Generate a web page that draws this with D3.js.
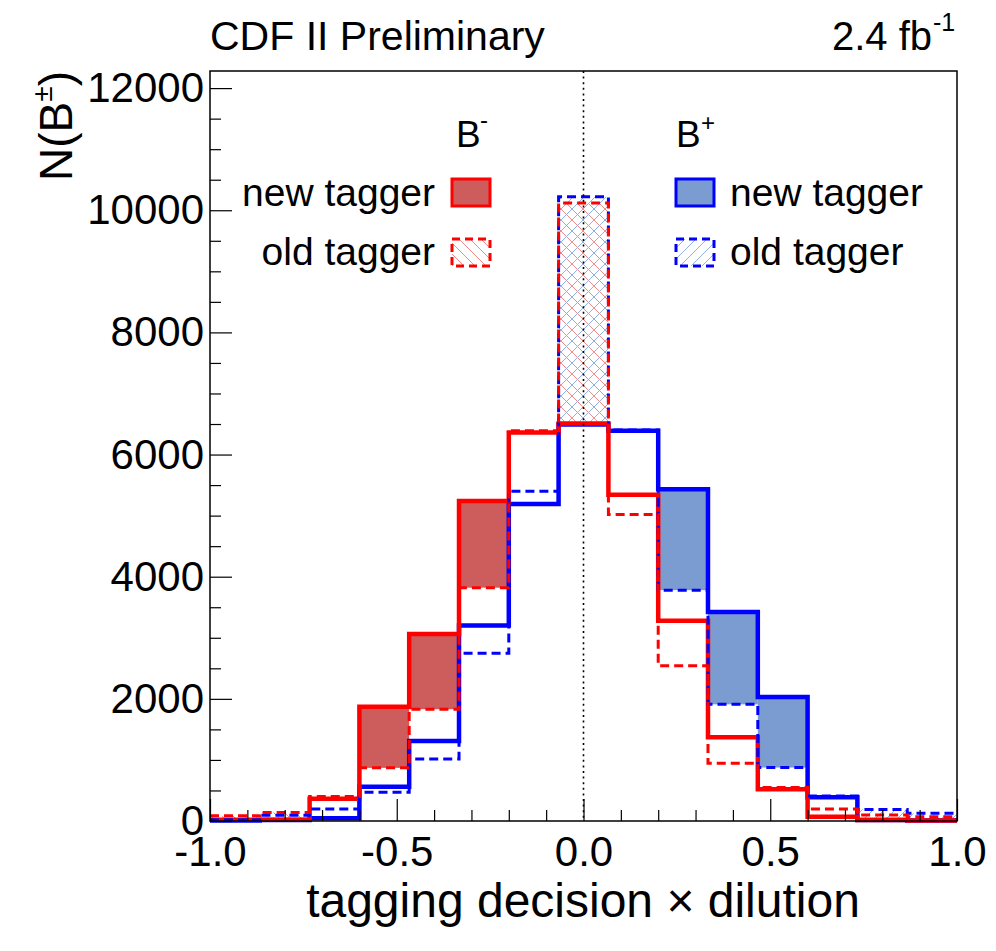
<!DOCTYPE html>
<html>
<head>
<meta charset="utf-8">
<script src="https://cdn.jsdelivr.net/npm/d3@7"></script>
<style>
  html, body { margin: 0; padding: 0; background: #ffffff; }
  svg { display: block; }
  text { font-family: "Liberation Sans", Arial, Helvetica, sans-serif; fill: #000; }
</style>
</head>
<body>
<div id="chart"></div>
<script>
// ---------------- data ----------------
const binEdges = [-1.0, -0.8667, -0.7333, -0.6, -0.4667, -0.3333, -0.2, -0.0667,
                  0.0667, 0.2, 0.3333, 0.4667, 0.6, 0.7333, 0.8667, 1.0];
// B- (red)
const redNew  = [20, 20, 365, 1870, 3060, 5240, 6360, 6510, 5340, 3280, 1370, 520, 70, 15, 10];
const redOld  = [85, 140, 400, 870, 1830, 3820, 6390, 10120, 5020, 2540, 945, 550, 195, 100, 70];
// B+ (blue)
const blueNew = [10, 15, 45, 560, 1310, 3200, 5190, 6490, 6390, 5430, 3420, 2030, 390, 15, 10];
const blueOld = [20, 95, 195, 470, 1015, 2745, 5400, 10220, 6400, 3780, 1910, 875, 410, 190, 125];

const yTickValues = [0, 2000, 4000, 6000, 8000, 10000, 12000];
const yTickLabels = ["0", "2000", "4000", "6000", "8000", "10000", "12000"];
const xTickValues = [-1, -0.5, 0, 0.5, 1];
const xTickLabels = ["-1.0", "-0.5", "0.0", "0.5", "1.0"];

// ---------------- layout ----------------
const W = 996, H = 951;
const L = 210, R = 957, T = 71, B = 821;
const RED = "#ff0000", BLUE = "#0000ff";
const RED_FILL = "#cd5c5c", BLUE_FILL = "#7b9cd0";
const RED_HATCH = "#f08a8a", BLUE_HATCH = "#92b2e6";

const svg = d3.select("#chart").append("svg")
  .attr("width", W).attr("height", H)
  .attr("viewBox", `0 0 ${W} ${H}`);
svg.append("rect").attr("width", W).attr("height", H).attr("fill", "#fff");

const defs = svg.append("defs");
function hatch(id, color, dir) {
  const s = 11;
  const p = defs.append("pattern").attr("id", id)
    .attr("patternUnits", "userSpaceOnUse").attr("width", s).attr("height", s);
  const lines = dir === "back"
    ? [[0, 0, s, s], [-s, 0, 0, s], [s, 0, 2 * s, s]]
    : [[0, s, s, 0], [-s, s, 0, 0], [s, s, 2 * s, 0]];
  lines.forEach(l => p.append("line")
    .attr("x1", l[0]).attr("y1", l[1]).attr("x2", l[2]).attr("y2", l[3])
    .attr("stroke", color).attr("stroke-width", 1));
}
hatch("hatchRed", RED_HATCH, "back");
hatch("hatchBlue", BLUE_HATCH, "fwd");

const x = d3.scaleLinear().domain([-1, 1]).range([L, R]);
const y = d3.scaleLinear().domain([0, 12280]).range([B, T]);

// ---------------- difference areas ----------------
function diffRects(newV, oldV, side, fillColor, hatchId) {
  const g = svg.append("g");
  newV.forEach((v, i) => {
    const c = (binEdges[i] + binEdges[i + 1]) / 2;
    if (side < 0 ? c > 0.01 : c < -0.01) return;
    const o = oldV[i];
    const lo = Math.min(v, o), hi = Math.max(v, o);
    g.append("rect")
      .attr("x", x(binEdges[i]))
      .attr("width", x(binEdges[i + 1]) - x(binEdges[i]))
      .attr("y", y(hi))
      .attr("height", y(lo) - y(hi))
      .attr("fill", v > o ? fillColor : `url(#${hatchId})`);
  });
}
diffRects(redNew, redOld, -1, RED_FILL, "hatchRed");
diffRects(blueNew, blueOld, 1, BLUE_FILL, "hatchBlue");

// ---------------- histogram outlines ----------------
const stepLine = d3.line().x(d => x(d[0])).y(d => y(d[1])).curve(d3.curveStepAfter);
function pts(vals) {
  const p = vals.map((v, i) => [binEdges[i], v]);
  p.push([binEdges[binEdges.length - 1], vals[vals.length - 1]]);
  return p;
}
function outline(vals, color, width, dash) {
  svg.append("path").attr("d", stepLine(pts(vals)))
    .attr("fill", "none").attr("stroke", color).attr("stroke-width", width)
    .attr("stroke-dasharray", dash || null).attr("stroke-linejoin", "miter");
}
outline(blueNew, BLUE, 4.5);
outline(redNew, RED, 4.5);
outline(blueOld, BLUE, 3, "9,5");
outline(redOld, RED, 3, "9,5");

// ---------------- axes & frame ----------------
const yAxis = d3.axisLeft(y).tickValues(yTickValues)
  .tickFormat((d, i) => yTickLabels[i]).tickSizeInner(-22).tickSizeOuter(0).tickPadding(6);
const yMinor = d3.axisLeft(y).tickValues(d3.range(0, 12001, 500).filter(v => v % 2000 !== 0))
  .tickFormat("").tickSizeInner(-11).tickSizeOuter(0);
const xAxis = d3.axisBottom(x).tickValues(xTickValues)
  .tickFormat((d, i) => xTickLabels[i]).tickSizeInner(-22).tickSizeOuter(0).tickPadding(15);
const xMinor = d3.axisBottom(x).tickValues(d3.range(-9, 10).map(v => v / 10).filter(v => Math.abs(v * 2 - Math.round(v * 2)) > 1e-6))
  .tickFormat("").tickSizeInner(-11).tickSizeOuter(0);

function styleAxis(g, size) {
  g.select(".domain").remove();
  g.selectAll(".tick line").attr("stroke", "#000").attr("stroke-width", 1.2);
  g.selectAll("text").attr("font-size", size).attr("font-family", '"Liberation Sans", Arial, sans-serif').attr("fill", "#000");
}
svg.append("g").attr("transform", `translate(${L},0)`).call(yAxis).call(g => styleAxis(g, 42));
svg.append("g").attr("transform", `translate(${L},0)`).call(yMinor).call(g => styleAxis(g, 42));
svg.append("g").attr("transform", `translate(0,${B})`).call(xAxis).call(g => styleAxis(g, 42));
svg.append("g").attr("transform", `translate(0,${B})`).call(xMinor).call(g => styleAxis(g, 42));

svg.append("rect").attr("x", L).attr("y", T).attr("width", R - L).attr("height", B - T)
  .attr("fill", "none").attr("stroke", "#000").attr("stroke-width", 1.5);

// zero line
svg.append("line").attr("x1", x(0)).attr("x2", x(0)).attr("y1", T).attr("y2", B)
  .attr("stroke", "#000").attr("stroke-width", 1.6).attr("stroke-dasharray", "2,3.6");

// ---------------- texts ----------------
svg.append("text").attr("x", 210).attr("y", 50).attr("font-size", 41).text("CDF II Preliminary");
svg.append("text").attr("x", 932).attr("y", 50).attr("font-size", 40).attr("text-anchor", "end").text("2.4 fb");
svg.append("text").attr("x", 933).attr("y", 31).attr("font-size", 25).text("-1");

svg.append("text").attr("x", 583).attr("y", 917).attr("font-size", 48)
  .attr("text-anchor", "middle").text("tagging decision \u00d7 dilution");

const yl = svg.append("text").attr("transform", `translate(72,${T}) rotate(-90)`)
  .attr("text-anchor", "end").attr("font-size", 46);
yl.append("tspan").text("N(B");
yl.append("tspan").attr("font-size", 28).attr("dy", -20).text("\u00b1");
yl.append("tspan").attr("dy", 20).text(")");

// ---------------- legend ----------------
svg.append("text").attr("x", 456).attr("y", 147).attr("font-size", 37).text("B");
svg.append("text").attr("x", 480).attr("y", 128).attr("font-size", 24).text("-");
svg.append("text").attr("x", 676).attr("y", 147).attr("font-size", 37).text("B");
svg.append("text").attr("x", 701).attr("y", 131).attr("font-size", 24).text("+");

svg.append("text").attr("x", 435).attr("y", 206).attr("font-size", 39).attr("text-anchor", "end").text("new tagger");
svg.append("text").attr("x", 435).attr("y", 265).attr("font-size", 39).attr("text-anchor", "end").text("old tagger");
svg.append("text").attr("x", 730).attr("y", 206).attr("font-size", 39).text("new tagger");
svg.append("text").attr("x", 730).attr("y", 265).attr("font-size", 39).text("old tagger");

function legBox(bx, by, stroke, fill, dash) {
  svg.append("rect").attr("x", bx).attr("y", by).attr("width", 38).attr("height", 27)
    .attr("fill", fill).attr("stroke", stroke).attr("stroke-width", 3)
    .attr("stroke-dasharray", dash || null);
}
legBox(452, 179, RED, RED_FILL);
legBox(452, 239, RED, "url(#hatchRed)", "8,5");
legBox(676, 179, BLUE, BLUE_FILL);
legBox(676, 239, BLUE, "url(#hatchBlue)", "8,5");
</script>
</body>
</html>
